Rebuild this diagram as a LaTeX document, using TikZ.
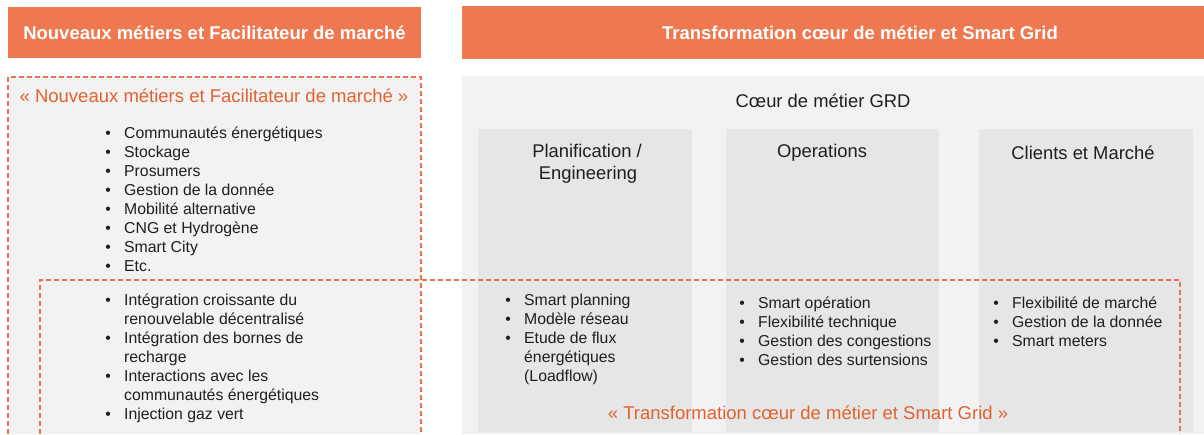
\documentclass[tikz,border=0pt]{standalone}
\usepackage{fontspec}
\setmainfont{Liberation Sans}
\definecolor{hdr}{HTML}{EE7850}
\definecolor{dash}{HTML}{E8754F}
\definecolor{otxt}{HTML}{E0622F}
\definecolor{panel}{HTML}{F2F2F2}
\definecolor{col}{HTML}{E6E6E6}
\definecolor{body}{HTML}{1F1F1F}
\newcommand{\blt}{\makebox[18.75pt][l]{\textbullet}}
\newcommand{\cnt}{\hspace*{18.75pt}}
\tikzset{
  hdrtext/.style={anchor=base, inner sep=0, text=white, font=\fontsize{18.5}{22}\selectfont\bfseries},
  otitle/.style={anchor=base, inner sep=0, text=otxt, font=\fontsize{18.5}{22}\selectfont},
  ctitle/.style={anchor=base, inner sep=0, text=body, font=\fontsize{18.4}{22}\selectfont},
  listbox/.style={anchor=base west, inner sep=0, text=body, font=\fontsize{15.8}{19}\selectfont},
  dashline/.style={draw=dash, line width=1.2pt, dash pattern=on 5pt off 3pt}
}
\begin{document}
\begin{tikzpicture}[x=1pt,y=-1pt]
\useasboundingbox[fill=white] (0,0) rectangle (1204,434);
% headers
\fill[hdr] (8,7) rectangle (421,58);
\fill[hdr] (462,6) rectangle (1204,59);
% panels
\fill[panel] (8,77) rectangle (421,434);
\fill[panel] (462,76) rectangle (1204,434);
\fill[col] (478,129) rectangle (692,432);
\fill[col] (726,129) rectangle (939,432);
\fill[col] (979,129) rectangle (1193,432);
% dashed frames
\draw[dashline] (8,434) -- (8,77) -- (421,77) -- (421,434);
\draw[dashline] (40,434) -- (40,280) -- (1180,280) -- (1180,434);
% header texts
\node[hdrtext] (h1) at (214.5,39.5) {Nouveaux métiers et Facilitateur de marché};
\node[hdrtext] (h2) at (860,39.5) {Transformation cœur de métier et Smart Grid};
% left panel
\node[otitle] (t1) at (214,102) {« Nouveaux métiers et Facilitateur de marché »};
\node[listbox] (l1) at (105.25,138) {\begin{tabular}[t]{@{}l@{}}
\blt Communautés énergétiques\\
\blt Stockage\\
\blt Prosumers\\
\blt Gestion de la donnée\\
\blt Mobilité alternative\\
\blt CNG et Hydrogène\\
\blt Smart City\\
\blt Etc.
\end{tabular}};
\node[listbox] (l2) at (105.25,305) {\begin{tabular}[t]{@{}l@{}}
\blt Intégration croissante du\\
\cnt renouvelable décentralisé\\
\blt Intégration des bornes de\\
\cnt recharge\\
\blt Interactions avec les\\
\cnt communautés énergétiques\\
\blt Injection gaz vert
\end{tabular}};
% right panel
\node[ctitle] (core) at (823,107) {Cœur de métier GRD};
\node[ctitle] (c1a) at (587,157) {Planification /};
\node[ctitle] (c1b) at (588,179) {Engineering};
\node[ctitle] (c2) at (822,157) {Operations};
\node[ctitle] (c3) at (1083,159) {Clients et Marché};
\node[listbox] (k1) at (505.25,305) {\begin{tabular}[t]{@{}l@{}}
\blt Smart planning\\
\blt Modèle réseau\\
\blt Etude de flux\\
\cnt énergétiques\\
\cnt (Loadflow)
\end{tabular}};
\node[listbox] (k2) at (739.25,308) {\begin{tabular}[t]{@{}l@{}}
\blt Smart opération\\
\blt Flexibilité technique\\
\blt Gestion des congestions\\
\blt Gestion des surtensions
\end{tabular}};
\node[listbox] (k3) at (993.25,308) {\begin{tabular}[t]{@{}l@{}}
\blt Flexibilité de marché\\
\blt Gestion de la donnée\\
\blt Smart meters
\end{tabular}};
\node[otitle] (t2) at (808,419) {« Transformation cœur de métier et Smart Grid »};
\end{tikzpicture}
\end{document}
